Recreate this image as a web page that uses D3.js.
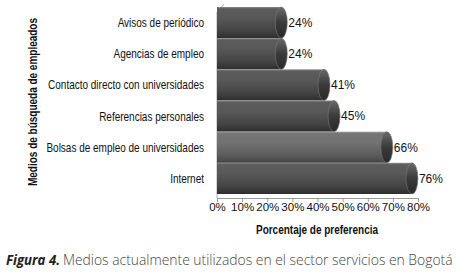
<!DOCTYPE html>
<html><head><meta charset="utf-8">
<script src="https://cdn.jsdelivr.net/npm/d3@7"></script>
<style>html,body{margin:0;padding:0;background:#fff;}svg{display:block;}</style>
</head><body>
<svg id="c" width="459" height="277"></svg>
<script>
const categories = ["Avisos de periódico","Agencias de empleo","Contacto directo con universidades","Referencias personales","Bolsas de empleo de universidades","Internet"];
const values = [0.24,0.24,0.41,0.45,0.66,0.76];
const valueLabels = ["24%","24%","41%","45%","66%","76%"];
const ticks = [0,0.1,0.2,0.3,0.4,0.5,0.6,0.7,0.8];
const xTitle = "Porcentaje de preferencia";
const yTitle = "Medios de búsqueda de empleados";
const captionBold = "Figura 4.";
const captionText = "Medios actualmente utilizados en el sector servicios en Bogotá";

const svg = d3.select("#c");
const x = d3.scaleLinear().domain([0,0.8]).range([217,418]);
const y = d3.scaleBand().domain(categories).range([7,194]).padding(0);

const defs = svg.append("defs");
function grad(id, stops){
  const g = defs.append("linearGradient").attr("id",id).attr("x1",0).attr("y1",0).attr("x2",0).attr("y2",1);
  stops.forEach(s=>g.append("stop").attr("offset",s[0]).attr("stop-color",s[1]));
}
grad("gDark",[[0,"#8a8a8a"],[0.06,"#5c5c5c"],[0.35,"#585858"],[0.75,"#444"],[1,"#2e2e2e"]]);
grad("gLight",[[0,"#a0a0a0"],[0.06,"#767676"],[0.35,"#727272"],[0.75,"#5c5c5c"],[1,"#444"]]);
grad("gCap",[[0,"#6a6a6a"],[0.5,"#3a3a3a"],[1,"#2a2a2a"]]);

// walls / axis
svg.append("line").attr("x1",217).attr("x2",217).attr("y1",12).attr("y2",198).attr("stroke","#aaa");
svg.append("line").attr("x1",217).attr("x2",224).attr("y1",12).attr("y2",4).attr("stroke","#aaa");
const xAxis = d3.axisBottom(x).tickValues(ticks).tickFormat(d3.format(".0%")).tickSize(4).tickSizeOuter(0);
const ax = svg.append("g").attr("transform","translate(0,198)").call(xAxis);
ax.select(".domain").attr("stroke","#999");
ax.selectAll(".tick line").attr("stroke","#999");
ax.selectAll("text").attr("font-family","Liberation Sans, Arial").attr("font-size","11.5px").attr("fill","#111").attr("dy","0.55em");

const bars = svg.append("g").selectAll("g").data(categories).join("g");
bars.append("rect")
  .attr("x", x(0))
  .attr("y", d=>y(d))
  .attr("width", (d,i)=>x(values[i])+4-x(0))
  .attr("height", y.bandwidth())
  .attr("fill",(d,i)=> i===4 ? "url(#gLight)" : "url(#gDark)");
bars.append("ellipse")
  .attr("cx",(d,i)=>x(values[i])+4)
  .attr("cy",d=>y(d)+y.bandwidth()/2)
  .attr("rx",6)
  .attr("ry",y.bandwidth()/2)
  .attr("fill","url(#gCap)")
  .attr("stroke","#777").attr("stroke-width",0.6);
bars.append("text")
  .attr("x",(d,i)=>x(values[i])+11)
  .attr("y",d=>y(d)+y.bandwidth()/2)
  .attr("dy","0.36em")
  .attr("font-family","Liberation Sans, Arial").attr("font-size","12px").attr("fill","#111")
  .text((d,i)=>valueLabels[i]);

// category labels (condensed via horizontal scale)
svg.append("g").selectAll("g").data(categories).join("g")
  .attr("transform",d=>`translate(204,${y(d)+y.bandwidth()/2}) scale(0.8,1)`)
  .append("text")
  .attr("dy","0.36em")
  .attr("text-anchor","end")
  .attr("font-family","Liberation Sans, Arial, sans-serif").attr("font-size","12.5px").attr("fill","#111")
  .text(d=>d);

svg.append("g").attr("transform","translate(317,234) scale(0.8,1)")
  .append("text").attr("text-anchor","middle")
  .attr("font-family","Liberation Sans, Arial, sans-serif").attr("font-weight","bold").attr("font-size","12.5px").attr("fill","#111")
  .text(xTitle);
svg.append("g").attr("transform","translate(37,102) rotate(-90) scale(0.8,1)")
  .append("text").attr("text-anchor","middle")
  .attr("font-family","Liberation Sans, Arial, sans-serif").attr("font-weight","bold").attr("font-size","12.5px").attr("fill","#111")
  .text(yTitle);

function fitGroup(x0, y0, w, build){
  const g = svg.append("g");
  const t = build(g);
  const nat = t.node().getComputedTextLength();
  g.attr("transform",`translate(${x0},${y0}) scale(${w/nat},1)`);
}
fitGroup(6, 265, 54, g => g.append("text")
  .attr("font-family","Open Sans, Noto Sans, sans-serif").attr("font-size","15px")
  .attr("font-weight","bold").attr("font-style","italic").attr("fill","#222")
  .text(captionBold));
fitGroup(63, 265, 390, g => g.append("text")
  .attr("font-family","Open Sans, Noto Sans, sans-serif").attr("font-size","15px")
  .attr("font-weight","300").attr("fill","#444")
  .text(captionText));
</script>
</body></html>
